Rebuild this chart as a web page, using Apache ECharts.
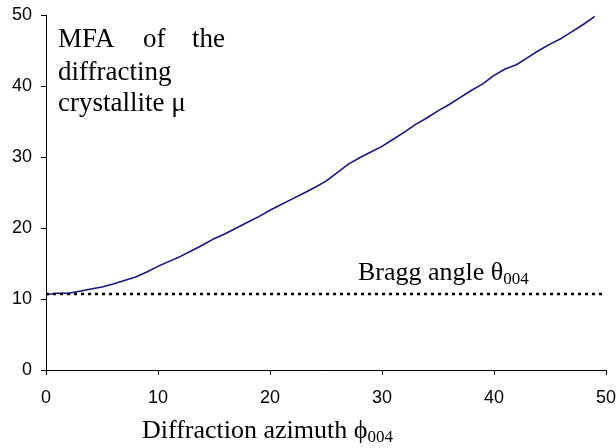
<!DOCTYPE html>
<html>
<head>
<meta charset="utf-8">
<style>
  html, body { margin: 0; padding: 0; background: #fff; }
  #chart { width: 616px; height: 448px; }
</style>
<script src="https://cdn.jsdelivr.net/npm/echarts@6/dist/echarts.min.js"></script>
</head>
<body>
<div id="chart"></div>
<script>
// diffraction azimuth (deg)
var azimuth = [0, 1, 2, 3, 4, 5, 6, 7, 8, 9, 10, 11, 12, 13, 14, 15, 16, 17, 18, 19, 20,
  21, 22, 23, 24, 25, 26, 27, 28, 29, 30, 31, 32, 33, 34, 35, 36, 37, 38, 39, 40,
  41, 42, 43, 44, 45, 46, 47, 48, 49];
// MFA of the diffracting crystallite
var mfa = [10.6, 10.8, 10.8, 11.1, 11.4, 11.7, 12.1, 12.6, 13.1, 13.8, 14.6,
  15.3, 16.0, 16.8, 17.6, 18.5, 19.2, 20.0, 20.8, 21.6, 22.5,
  23.3, 24.1, 24.9, 25.7, 26.6, 27.8, 29.0, 29.9, 30.7, 31.5,
  32.5, 33.5, 34.6, 35.5, 36.5, 37.4, 38.4, 39.4, 40.3, 41.5,
  42.4, 43.0, 44.0, 45.0, 45.9, 46.7, 47.7, 48.7, 49.8];
var braggX = [0, 50];
var braggAngle = 10.7;
var ticks = [0, 10, 20, 30, 40, 50];

var serif = '"Liberation Serif", "Times New Roman", serif';
var sans = '"Liberation Sans", Arial, sans-serif';

var chart = echarts.init(document.getElementById('chart'));

var curve = azimuth.map(function(x, i) { return [x, mfa[i]]; });
var bragg = braggX.map(function(x) { return [x, braggAngle]; });

// main text + subscript
var subRich = {
  m: { fontFamily: serif, fontSize: 26, color: '#000', lineHeight: 30 },
  s: { fontFamily: serif, fontSize: 17, color: '#000', lineHeight: 30, verticalAlign: 'bottom' }
};
var blockFont = '27px ' + serif;

var option = {
  animation: false,
  backgroundColor: '#fff',
  grid: { left: 46, right: 10, top: 15, bottom: 78, outerBoundsMode: 'none' },
  xAxis: {
    type: 'value',
    min: ticks[0], max: ticks[ticks.length - 1], interval: 10,
    axisLine: { lineStyle: { color: '#000', width: 1 } },
    axisTick: { show: true, length: 5, lineStyle: { color: '#000' } },
    axisLabel: { color: '#000', fontFamily: sans, fontSize: 18, margin: 19 },
    splitLine: { show: false }
  },
  yAxis: {
    type: 'value',
    min: ticks[0], max: ticks[ticks.length - 1], interval: 10,
    axisLine: { show: true, lineStyle: { color: '#000', width: 1 } },
    axisTick: { show: true, length: 5, lineStyle: { color: '#000' } },
    axisLabel: { color: '#000', fontFamily: sans, fontSize: 18, margin: 14 },
    splitLine: { show: false }
  },
  series: [{
    type: 'line',
    data: curve,
    showSymbol: false,
    clip: true,
    lineStyle: { color: '#14148c', width: 1.6 }
  }, {
    type: 'line',
    data: bragg,
    showSymbol: false,
    lineStyle: { color: '#000', width: 2.5, type: [3, 4] }
  }],
  graphic: [
    { type: 'text', left: 58, top: 26, style: { text: 'MFA', font: blockFont, fill: '#000' } },
    { type: 'text', left: 143, top: 26, style: { text: 'of', font: blockFont, fill: '#000' } },
    { type: 'text', left: 192, top: 26, style: { text: 'the', font: blockFont, fill: '#000' } },
    { type: 'text', left: 58, top: 59, style: { text: 'diffracting', font: blockFont, fill: '#000' } },
    { type: 'text', left: 58, top: 90, style: { text: 'crystallite μ', font: blockFont, fill: '#000' } },
    { type: 'text', left: 358, top: 260, style: { text: '{m|Bragg angle θ}{s|004}', rich: subRich } },
    { type: 'text', left: 142, top: 418, style: { text: '{m|Diffraction azimuth \u03D5}{s|004}', rich: subRich } }
  ]
};

chart.setOption(option);
</script>
</body>
</html>
